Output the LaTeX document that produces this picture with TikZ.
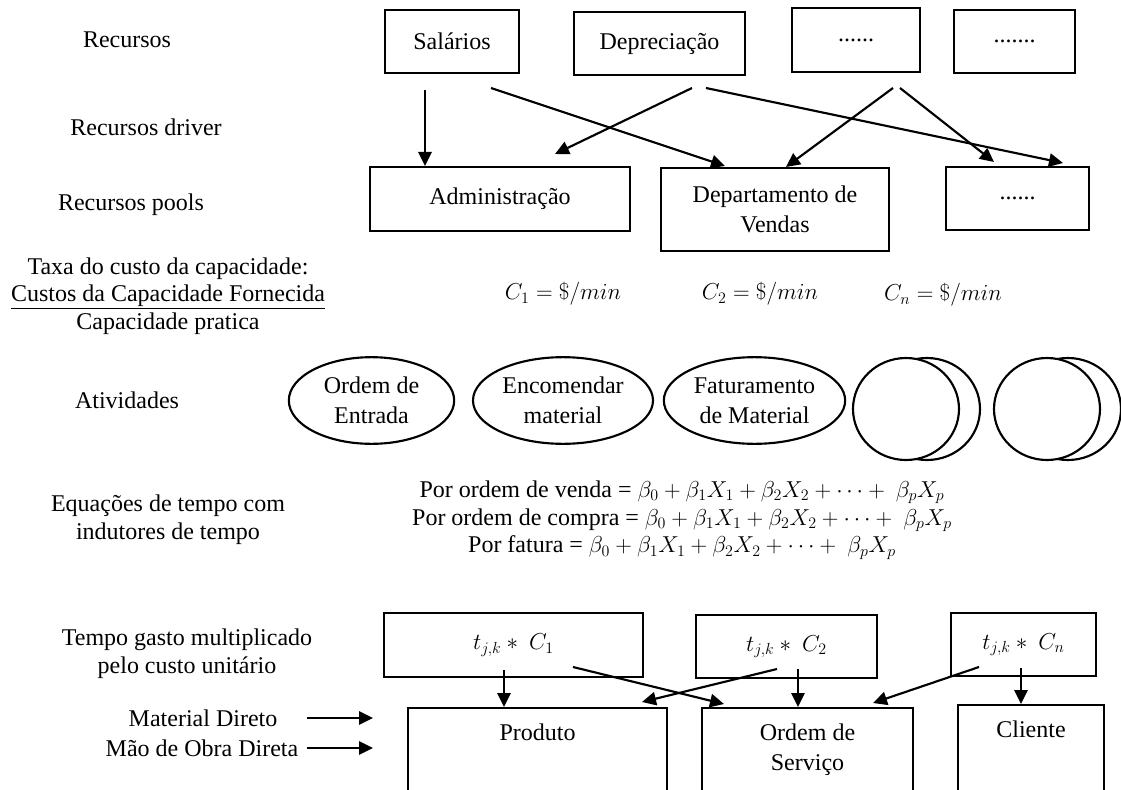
\documentclass[tikz,border=0pt]{standalone}
\usepackage{fontspec}
\setmainfont{Liberation Serif}
\usetikzlibrary{arrows.meta,positioning,calc,shapes.geometric}

\begin{document}
\begin{tikzpicture}[x=0.75pt,y=-0.75pt,
  every node/.style={font=\fontsize{18pt}{20.7pt}\selectfont},
  bx/.style={rectangle, draw, line width=1.6pt, align=center, inner sep=0pt},
  el/.style={ellipse, draw, line width=1.6pt, align=center, inner sep=0pt, fill=white},
  lbl/.style={align=center},
  arr/.style={-{Triangle[length=10.5pt,width=10pt]}, line width=1.6pt},
]
\useasboundingbox (0,0) rectangle (1121,789);
\clip (0,0) rectangle (1121,789);

%% ─ Left column labels ───────────────────────────────────────────────────────
\node[lbl] (lrec) at (127, 40) {Recursos};
\node[lbl] (ldrv) at (146,127) {Recursos driver};
\node[lbl] (lpol) at (131,205) {Recursos pools};
\node[lbl] (ltax) at (168,296) {Taxa do custo da capacidade:\\
  \underline{Custos da Capacidade Fornecida}\\Capacidade pratica};
\node[lbl] (latv) at (127,400) {Atividades};
\node[lbl] (lequ) at (168,520) {Equações de tempo com\\indutores de tempo};
\node[lbl] (ltmp) at (187,654) {Tempo gasto multiplicado\\pelo custo unitário};
\node[lbl] (lmat) at (203,718) {Material Direto};
\node[lbl] (lmob) at (202,748) {Mão de Obra Direta};

%% ─ Resources ────────────────────────────────────────────────────────────────
\node[bx, minimum width=100.5pt, minimum height=47pt] (sal)  at (452,   41.5) {Salários};
\node[bx, minimum width=128pt,   minimum height=47pt] (dep)  at (659.5, 43.5) {Depreciação};
\node[bx, minimum width=96pt,    minimum height=48pt] (rdt1) at (856,   40)   {......};
\node[bx, minimum width=91pt,    minimum height=47pt] (rdt2) at (1014.5,41.5) {.......};

%% ─ Resource pools ───────────────────────────────────────────────────────────
\node[bx, minimum width=195pt, minimum height=48pt] (adm)  at (500,   199)   {Administração};
\node[bx, minimum width=171pt, minimum height=62pt] (dven) at (775,   209.5) {Departamento de\\[2pt]Vendas};
\node[bx, minimum width=107pt, minimum height=47pt] (pdt)  at (1017.5,198.5) {......};

%% ─ Resource drivers ─────────────────────────────────────────────────────────
\coordinate (d1) at (425,90);  \coordinate (d2) at (491,88);
\coordinate (d3) at (692,88);  \coordinate (d4) at (706,88);
\coordinate (d5) at (893,88);  \coordinate (d6) at (900,88);
\coordinate (p2) at (725,166); \coordinate (p3) at (555,154);
\coordinate (p4) at (1063,163);\coordinate (p5) at (786,167);
\coordinate (p6) at (994,162);

\draw[arr] (d1) -- (d1 |- adm.north);
\draw[arr] (d2) -- (p2);
\draw[arr] (d3) -- (p3);
\draw[arr] (d4) -- (p4);
\draw[arr] (d5) -- (p5);
\draw[arr] (d6) -- (p6);

%% ─ Capacity cost rates ──────────────────────────────────────────────────────
\node (cr1) at (563,294) {$C_1 = \$/min$};
\node (cr2) at (760,294) {$C_2 = \$/min$};
\node (crn) at (943,295) {$C_n = \$/min$};

%% ─ Activities ───────────────────────────────────────────────────────────────
\node[el, minimum width=124pt, minimum height=65pt] (ordE) at (371.5,400.5) {Ordem de\\[2pt]Entrada};
\node[el, minimum width=135pt, minimum height=65pt] (encM) at (563,  400.5) {Encomendar\\[2pt]material};
\node[el, minimum width=136pt, minimum height=65pt] (fatM) at (754.5,400.5) {Faturamento\\[2pt]de Material};
\node[el, minimum width=79.5pt, minimum height=76.5pt] (atb1) at (927, 409) {};
\node[el, minimum width=79.5pt, minimum height=76.5pt] (atf1) at (906, 409) {};
\node[el, minimum width=79.5pt, minimum height=76.5pt] (atb2) at (1068,409) {};
\node[el, minimum width=79.5pt, minimum height=76.5pt] (atf2) at (1047,409) {};

%% ─ Time equations ───────────────────────────────────────────────────────────
\node[lbl] (teq) at (682,520) {%
  Por ordem de venda = $\beta_0 + \beta_1X_1 + \beta_2X_2 + \cdots +\ \beta_pX_p$\\
  Por ordem de compra = $\beta_0 + \beta_1X_1 + \beta_2X_2 + \cdots +\ \beta_pX_p$\\
  Por fatura = $\beta_0 + \beta_1X_1 + \beta_2X_2 + \cdots +\ \beta_pX_p$};

%% ─ Time x unit cost ─────────────────────────────────────────────────────────
\node[bx, minimum width=194pt, minimum height=48pt] (tc1) at (513.5, 645)   {$t_{j,k} *\ C_1$};
\node[bx, minimum width=136pt, minimum height=47pt] (tc2) at (786.5, 646.5) {$t_{j,k} *\ C_2$};
\node[bx, minimum width=109pt, minimum height=47pt] (tcn) at (1023.5,644.5) {$t_{j,k} *\ C_n$};

%% ─ Cost objects ─────────────────────────────────────────────────────────────
\node[bx, anchor=north, minimum width=194pt,   minimum height=72pt] (prod) at (537.5,707) {};
\node[bx, anchor=north, minimum width=158pt,   minimum height=72pt] (ords) at (807.5,707) {};
\node[bx, anchor=north, minimum width=109.5pt, minimum height=72pt] (clie) at (1031, 704) {};
\node[lbl, below=9pt of prod.north] {Produto};
\node[lbl, below=9pt of ords.north] {Ordem de\\[2pt]Serviço};
\node[lbl, below=9pt of clie.north] {Cliente};

%% ─ Arrows: time x cost into cost objects ────────────────────────────────────
\coordinate (m1) at (504,670); \coordinate (m2) at (573,667);
\coordinate (m3) at (777,669); \coordinate (m4) at (798,669);
\coordinate (m5) at (979,667); \coordinate (m6) at (1021,668);
\coordinate (o2) at (724,704); \coordinate (o3) at (642,702);
\coordinate (o5) at (873,703);

\draw[arr] (m1) -- (m1 |- prod.north);
\draw[arr] (m2) -- (o2);
\draw[arr] (m3) -- (o3);
\draw[arr] (m4) -- (m4 |- ords.north);
\draw[arr] (m5) -- (o5);
\draw[arr] (m6) -- (m6 |- clie.north);

%% ─ Arrows: direct costs ─────────────────────────────────────────────────────
\coordinate (x1) at (307,718); \coordinate (y1) at (373,718);
\coordinate (x2) at (307,748); \coordinate (y2) at (373,748);
\draw[arr] (x1) -- (y1);
\draw[arr] (x2) -- (y2);

\end{tikzpicture}
\end{document}
